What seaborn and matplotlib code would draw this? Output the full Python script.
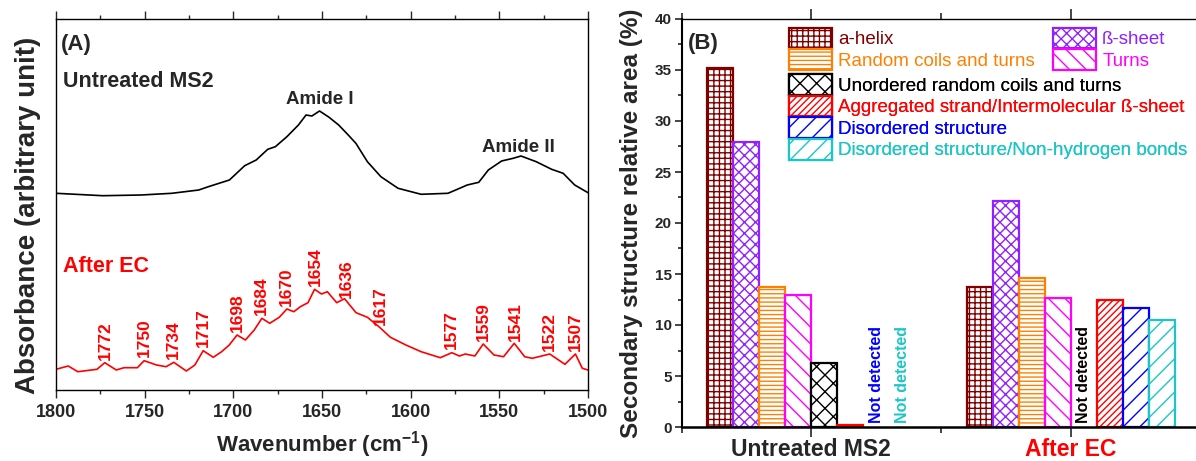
import numpy as np
import pandas as pd
import matplotlib
matplotlib.use("Agg")
import matplotlib.pyplot as plt
import seaborn as sns
from matplotlib.patches import Patch, Rectangle
from matplotlib.legend_handler import HandlerPatch
from matplotlib.ticker import MultipleLocator

# ---------------- Panel A data ----------------
wn_untreated = [1800, 1773.6, 1752.0, 1734.7, 1719.5, 1714.1, 1702.2, 1693.6, 1687.1,
                1680.6, 1676.3, 1669.8, 1663.3, 1659.0, 1655.7, 1651.4, 1646.0, 1640.6,
                1635.2, 1630.9, 1624.4, 1616.8, 1607.1, 1594.1, 1579.0, 1574.6, 1568.1,
                1561.6, 1556.2, 1548.7, 1542.2, 1537.8, 1529.2, 1520.5, 1514.0, 1507.5, 1500.0]
abs_untreated = [1.967, 1.943, 1.950, 1.967, 2.000, 2.033, 2.100, 2.243, 2.300,
                 2.407, 2.433, 2.533, 2.650, 2.750, 2.740, 2.790, 2.727, 2.650,
                 2.550, 2.467, 2.283, 2.133, 2.017, 1.957, 1.967, 2.000, 2.050,
                 2.077, 2.200, 2.290, 2.317, 2.340, 2.283, 2.207, 2.167, 2.050, 1.973]

wn_ec = [1800, 1793.1, 1787.7, 1780.1, 1776.9, 1772.5, 1766.0, 1761.7, 1754.1, 1750.3,
         1743.3, 1737.9, 1733.6, 1726.5, 1721.7, 1717.0, 1711.3, 1706.6, 1702.3, 1697.9,
         1693.2, 1688.2, 1683.9, 1679.5, 1674.1, 1669.8, 1665.9, 1662.2, 1657.9, 1654.2,
         1650.3, 1647.0, 1641.7, 1637.3, 1630.8, 1624.4, 1617.9, 1611.4, 1602.7, 1594.1,
         1583.3, 1576.8, 1572.5, 1569.2, 1563.8, 1559.1, 1553.0, 1547.6, 1541.6, 1535.7,
         1531.4, 1521.6, 1513.0, 1507.1, 1503.2, 1500.0]
abs_ec = [0.207, 0.240, 0.183, 0.200, 0.207, 0.273, 0.200, 0.223, 0.223, 0.293,
          0.250, 0.233, 0.277, 0.190, 0.250, 0.393, 0.327, 0.383, 0.450, 0.550,
          0.500, 0.600, 0.717, 0.667, 0.727, 0.810, 0.783, 0.833, 0.873, 1.007,
          0.960, 0.983, 0.873, 0.913, 0.773, 0.727, 0.633, 0.527, 0.450, 0.383,
          0.323, 0.373, 0.340, 0.360, 0.340, 0.460, 0.350, 0.333, 0.467, 0.333,
          0.317, 0.360, 0.257, 0.360, 0.217, 0.200]

peak_labels = [1772, 1750, 1734, 1717, 1698, 1684, 1670, 1654, 1636, 1617,
               1577, 1559, 1541, 1522, 1507]

# ---------------- Panel B data ----------------
samples = ["Untreated MS2", "After EC"]
structures = ["a-helix", "ß-sheet", "Random coils and turns", "Turns",
              "Unordered random coils and turns",
              "Aggregated strand/Intermolecular ß-sheet",
              "Disordered structure",
              "Disordered structure/Non-hydrogen bonds"]
untreated_area = [35.2, 27.9, 13.7, 12.9, 6.3, 0.2, np.nan, np.nan]
after_ec_area = [13.7, 22.2, 14.6, 12.6, np.nan, 12.5, 11.7, 10.5]
colors = ["#800000", "#8F22FF", "#FF8000", "#FF00FF", "#000000", "#FF0000",
          "#0000FF", "#1CC6C6"]
hatches = ["+++", "xxx", "----", "\\\\", "xx", "/////", "//", "//"]

# ---------------- Style ----------------
sns.set_style("ticks")
plt.rcParams["font.family"] = ["Liberation Sans", "DejaVu Sans"]
plt.rcParams["font.weight"] = "bold"
plt.rcParams["axes.labelweight"] = "bold"
plt.rcParams["mathtext.fontset"] = "custom"
plt.rcParams["mathtext.rm"] = "Liberation Sans"
plt.rcParams["mathtext.bf"] = "Liberation Sans:bold"
plt.rcParams["hatch.linewidth"] = 1.0

fig = plt.figure(figsize=(11.96, 4.61), dpi=100)
W, H = 1196.0, 461.0
axA = fig.add_axes([56 / W, 1 - 390 / H, 532 / W, 371 / H])
axB = fig.add_axes([681.5 / W, 1 - 427 / H, 519 / W, 408 / H])

# ---------------- Panel A ----------------
sns.lineplot(x=wn_untreated, y=abs_untreated, ax=axA, color="black", lw=1.2,
             sort=False, estimator=None)
sns.lineplot(x=wn_ec, y=abs_ec, ax=axA, color="#FF0000", lw=1.2,
             sort=False, estimator=None)
axA.set_xlim(1800, 1500)
axA.set_ylim(0, 3.71)
axA.xaxis.set_major_locator(MultipleLocator(50))
axA.xaxis.set_minor_locator(MultipleLocator(25))
axA.tick_params(axis="x", which="both", direction="out", top=True, bottom=True,
                labelsize=13, width=1.0, pad=4)
axA.tick_params(axis="x", which="major", length=6)
axA.tick_params(axis="x", which="minor", length=3)
axA.tick_params(axis="y", left=False, labelleft=False)
for s in axA.spines.values():
    s.set_visible(True)
    s.set_linewidth(1.0)
    s.set_color("black")
axA.set_xlabel("Wavenumber (cm$^{\\mathbf{-1}}$)", fontsize=16)
axA.xaxis.set_label_coords(0.5, -0.105)
axA.set_ylabel("Absorbance (arbitrary unit)", fontsize=20)
axA.yaxis.set_label_coords(-0.028, 0.472)

axA.text(1797, 3.40, "(A)", fontsize=16, ha="left", va="baseline")
axA.text(1796, 3.03, "Untreated MS2", fontsize=15.5, ha="left", va="baseline")
axA.text(1651.4, 2.86, "Amide I", fontsize=13.5, ha="center", va="baseline")
axA.text(1539, 2.38, "Amide II", fontsize=13.5, ha="center", va="baseline")
axA.text(1796.3, 1.183, "After EC", fontsize=15.5, ha="left", va="baseline",
         color="#FF0000")
wn_inc = np.array(wn_ec)[::-1]
ab_inc = np.array(abs_ec)[::-1]
for pk in peak_labels:
    ytop = np.interp(pk, wn_inc, ab_inc)
    axA.text(pk, ytop + 0.035, str(pk), rotation=90, fontsize=12.5, color="#FF0000",
             ha="center", va="bottom")

# ---------------- Panel B ----------------
rows = []
for s, vals in zip(samples, [untreated_area, after_ec_area]):
    for st, v in zip(structures, vals):
        if not np.isnan(v):
            rows.append({"sample": s, "structure": st, "area": v})
df = pd.DataFrame(rows)
sns.barplot(data=df, x="sample", y="area", hue="structure", order=samples,
            hue_order=structures, palette=colors, errorbar=None, width=0.8,
            legend=False, ax=axB)
n = len(structures)
for p in axB.patches:
    cx = p.get_x() + p.get_width() / 2
    cat = int(round(cx))
    slot = int(round((cx - cat + 0.4) / (0.8 / n) - 0.5))
    p.set_facecolor("white")
    p.set_edgecolor(colors[slot])
    p.set_hatch(hatches[slot])
    p.set_linewidth(1.6)

def slot_x(cat, slot):
    return cat - 0.4 + (slot + 0.5) * 0.8 / n

nd_items = [(0, 6, colors[6]), (0, 7, colors[7]), (1, 4, colors[4])]
for cat, slot, c in nd_items:
    axB.text(slot_x(cat, slot), 0.4, "Not detected", rotation=90, fontsize=11.5,
             color=c, ha="center", va="bottom")

axB.set_xlim(-0.5, 1.5)
axB.set_ylim(0, 40)
axB.yaxis.set_major_locator(MultipleLocator(5))
axB.yaxis.set_minor_locator(MultipleLocator(2.5))
axB.xaxis.set_minor_locator(MultipleLocator(0.5))
axB.tick_params(axis="y", which="both", direction="out", left=True, labelsize=11,
                width=1.2, pad=2)
axB.tick_params(axis="y", which="major", length=5)
axB.tick_params(axis="y", which="minor", length=3)
axB.tick_params(axis="x", which="both", direction="out", top=True, bottom=True,
                width=1.2, labelsize=16.5, pad=1)
axB.tick_params(axis="x", which="major", length=7)
axB.tick_params(axis="x", which="minor", length=4)
for lbl in axB.get_xticklabels():
    if lbl.get_text() == "After EC":
        lbl.set_color("#FF0000")
for k, s in axB.spines.items():
    s.set_visible(True)
    s.set_color("black")
axB.spines["left"].set_linewidth(1.5)
axB.spines["bottom"].set_linewidth(1.8)
axB.spines["top"].set_linewidth(1.0)
axB.set_xlabel("")
axB.set_ylabel("Secondary structure relative area (%)", fontsize=17.5)
axB.yaxis.set_label_coords(-0.074, 0.5)
axB.text(-0.475, 37.06, "(B)", fontsize=16, ha="left", va="baseline")


def full_box(legend, orig_handle, xdescent, ydescent, width, height, fontsize):
    shift = 0.08 * fontsize
    return Rectangle((-xdescent, -ydescent - shift), width, height + ydescent)


def make_handles(idx):
    return [Patch(facecolor="white", edgecolor=colors[i], hatch=hatches[i],
                  linewidth=1.6, label=structures[i]) for i in idx]

leg_kw = dict(frameon=False, handlelength=2.3, handleheight=1.1, handletextpad=0.32,
              labelspacing=0.12, borderpad=0, borderaxespad=0, loc="upper left",
              handler_map={Patch: HandlerPatch(patch_func=full_box)},
              prop={"family": ["Liberation Sans", "DejaVu Sans"], "weight": "normal",
                    "size": 13.5})
groups = [([0, 2], (0.2071, 0.9755)), ([1, 3], (0.7158, 0.9755)),
          ([4, 5, 6, 7], (0.2071, 0.8623))]
for idx, anchor in groups:
    leg = axB.legend(handles=make_handles(idx), bbox_to_anchor=anchor, **leg_kw)
    for t, i in zip(leg.get_texts(), idx):
        t.set_color(colors[i])
    axB.add_artist(leg)

fig.savefig("out.png", dpi=100)
